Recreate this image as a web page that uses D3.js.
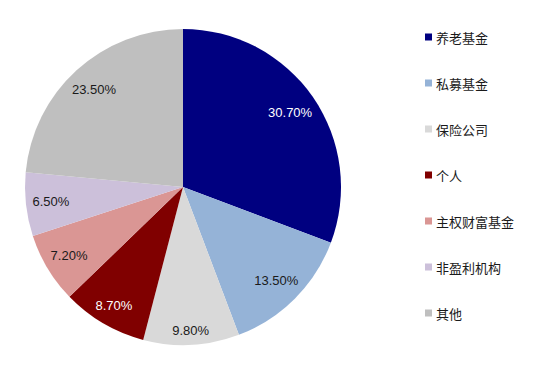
<!DOCTYPE html>
<html><head><meta charset="utf-8">
<script src="https://cdn.jsdelivr.net/npm/d3@7"></script>
<style>body{margin:0;background:#fff}svg{display:block}</style>
</head><body>
<svg id="chart" width="550" height="365"></svg>
<script>
const categories = ["养老基金","私募基金","保险公司","个人","主权财富基金","非盈利机构","其他"];
const values = [30.7, 13.5, 9.8, 8.7, 7.2, 6.5, 23.5];
const labels = ["30.70%","13.50%","9.80%","8.70%","7.20%","6.50%","23.50%"];
const colors = ["#000080","#95B3D7","#D9D9D9","#800000","#DA9694","#CCC0DA","#BFBFBF"];
const labelColors = ["#fff","#1a1a1a","#1a1a1a","#fff","#1a1a1a","#1a1a1a","#1a1a1a"];

const svg = d3.select("#chart");
const cx = 183, cy = 187, R = 158;
const pie = d3.pie().sort(null).value(d => d)(values);
const arc = d3.arc().innerRadius(0).outerRadius(R);
const g = svg.append("g").attr("transform", `translate(${cx},${cy})`);
g.selectAll("path").data(pie).join("path").attr("d", arc).attr("fill", (d,i) => colors[i]);

const fontLabel = "13px 'Liberation Sans', Arial, sans-serif";
const ctx = document.createElement("canvas").getContext("2d");
ctx.font = fontLabel;
const Rm = R - 6;
pie.forEach((d, i) => {
  const th = (d.startAngle + d.endAngle) / 2;
  const ux = Math.sin(th), uy = -Math.cos(th);
  const hw = ctx.measureText(labels[i]).width / 2, hh = 6;
  const b = Math.abs(ux) * hw + Math.abs(uy) * hh;
  const c = hw * hw + hh * hh - Rm * Rm;
  const t = -b + Math.sqrt(b * b - c);
  g.append("text").attr("x", t * ux).attr("y", t * uy)
    .attr("text-anchor", "middle").attr("dominant-baseline", "central")
    .style("font", fontLabel).attr("fill", labelColors[i]).text(labels[i]);
});

const ly = d3.scalePoint().domain(categories).range([37, 313]);
const lg = svg.append("g");
categories.forEach((c, i) => {
  lg.append("rect").attr("x", 425).attr("y", ly(c) - 3.5).attr("width", 7).attr("height", 7).attr("fill", colors[i]);
  lg.append("text").attr("x", 436).attr("y", ly(c)).attr("dominant-baseline", "central")
    .style("font", "13px 'Noto Sans CJK SC', sans-serif").attr("fill", "#1a1a1a").text(c);
});
</script>
</body></html>
